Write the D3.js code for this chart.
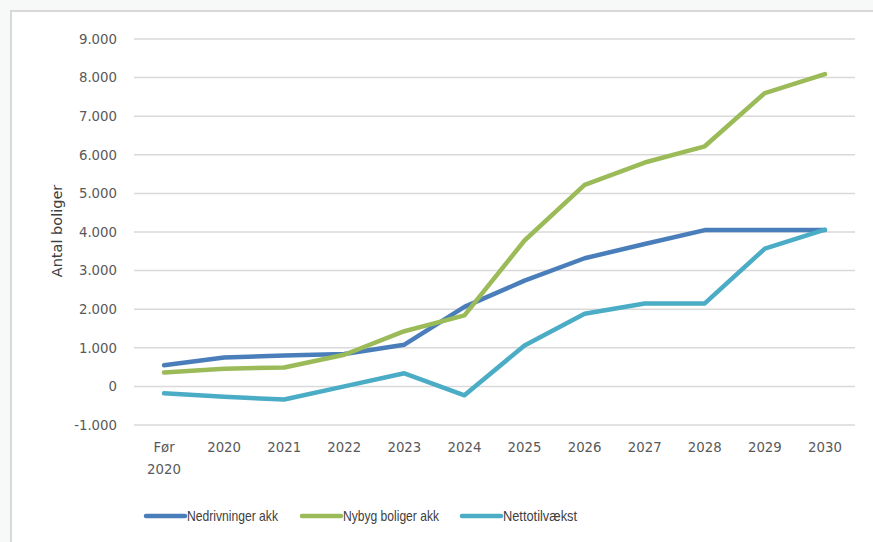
<!DOCTYPE html>
<html>
<head>
<meta charset="utf-8">
<script src="https://cdn.jsdelivr.net/npm/d3@7"></script>
<style>
  body { margin: 0; background: #f7f9f9; }
  svg { display: block; }
</style>
</head>
<body>
<script>
// categories and series
const categories = ["Før 2020", "2020", "2021", "2022", "2023", "2024", "2025", "2026", "2027", "2028", "2029", "2030"];
const nedrivninger = [550, 750, 800, 840, 1080, 2060, 2740, 3320, 3690, 4050, 4050, 4050];
const nybyg = [360, 460, 490, 820, 1430, 1840, 3780, 5220, 5800, 6220, 7600, 8090];
const netto = [-180, -270, -340, 0, 340, -230, 1060, 1880, 2150, 2150, 3570, 4060];
const yTicks = [-1000, 0, 1000, 2000, 3000, 4000, 5000, 6000, 7000, 8000, 9000];

const series = [
  { name: "Nedrivninger akk", values: nedrivninger, color: "#4a7ebb", textLen: 91 },
  { name: "Nybyg boliger akk", values: nybyg, color: "#9bbb59", textLen: 96 },
  { name: "Nettotilvækst", values: netto, color: "#4bacc6", textLen: 74 }
];

const W = 873, H = 542;
const svg = d3.select("body").append("svg")
  .attr("width", W)
  .attr("height", H);

// white chart box with gray border
svg.append("rect")
  .attr("x", 11).attr("y", 11)
  .attr("width", W).attr("height", H)
  .attr("fill", "white")
  .attr("stroke", "#d9d9d9")
  .attr("stroke-width", 2);

const plotLeft = 134, plotRight = 855;
let xScale = d3.scaleBand(categories, [plotLeft, plotRight]);
let yScale = d3.scaleLinear([-1000, 9000], [425, 39]);

const fmt = v => d3.format(",")(v).replace(/,/g, ".").replace("\u2212", "-");

// gridlines
svg.append("g")
  .selectAll("line")
  .data(yTicks)
  .join("line")
  .attr("x1", plotLeft)
  .attr("x2", plotRight)
  .attr("y1", d => yScale(d))
  .attr("y2", d => yScale(d))
  .attr("stroke", "#d9d9d9")
  .attr("stroke-width", 1.5);

// y axis
let yAxis = d3.axisLeft(yScale).tickValues(yTicks).tickFormat(fmt).tickSize(0).tickPadding(0);
const yg = svg.append("g")
  .attr("transform", `translate(117,0)`)
  .call(yAxis);
yg.select(".domain").remove();
yg.selectAll("text")
  .attr("font-family", "DejaVu Sans, sans-serif")
  .attr("font-size", 13.3)
  .attr("fill", "#595959");

// x axis
let xAxis = d3.axisBottom(xScale).tickSize(0).tickPadding(0);
const xg = svg.append("g")
  .attr("transform", `translate(0,443)`)
  .call(xAxis);
xg.select(".domain").remove();
xg.selectAll("text")
  .attr("font-family", "DejaVu Sans, sans-serif")
  .attr("font-size", 13.3)
  .attr("fill", "#595959")
  .each(function (d) {
    const t = d3.select(this);
    const parts = d.split(" ");
    t.text(null);
    parts.forEach((p, i) => {
      t.append("tspan")
        .attr("x", 0)
        .attr("dy", i === 0 ? "0.71em" : "1.6em")
        .text(p);
    });
  });
xg.selectAll("text").attr("dy", null);

// axis label
svg.append("text")
  .attr("transform", "rotate(-90)")
  .attr("x", -231)
  .attr("y", 62)
  .attr("text-anchor", "middle")
  .attr("font-family", "DejaVu Sans, sans-serif")
  .attr("font-size", 14.5)
  .attr("fill", "#404040")
  .text("Antal boliger");

// lines
let line = d3.line()
  .x((d, i) => xScale(categories[i]) + xScale.bandwidth() / 2)
  .y(d => yScale(d));

series.forEach(s => {
  svg.append("path")
    .datum(s.values)
    .attr("fill", "none")
    .attr("stroke", s.color)
    .attr("stroke-width", 4.5)
    .attr("stroke-linejoin", "round")
    .attr("stroke-linecap", "round")
    .attr("d", line);
});

// legend
const legendX = [146, 302, 462];
const legend = svg.append("g");
series.forEach((s, i) => {
  const g = legend.append("g").attr("transform", `translate(${legendX[i]},516)`);
  g.append("line")
    .attr("x1", 0).attr("x2", 39)
    .attr("stroke", s.color)
    .attr("stroke-width", 4.5)
    .attr("stroke-linecap", "round");
  g.append("text")
    .attr("x", 41)
    .attr("dy", "0.35em")
    .attr("font-family", "Liberation Sans, sans-serif")
    .attr("font-size", 14.5)
    .attr("textLength", s.textLen)
    .attr("lengthAdjust", "spacingAndGlyphs")
    .attr("fill", "#404040")
    .text(s.name);
});
</script>
</body>
</html>
